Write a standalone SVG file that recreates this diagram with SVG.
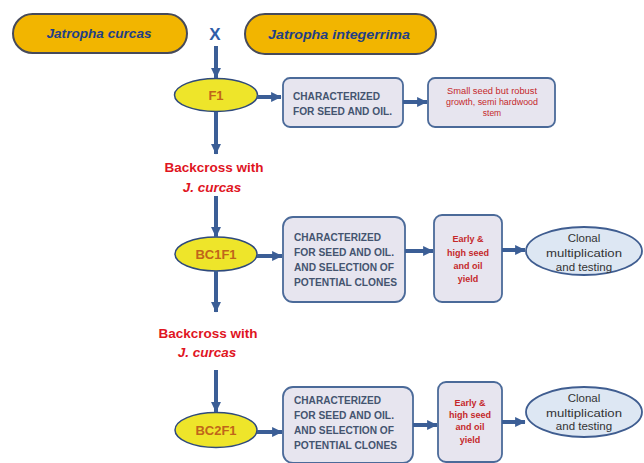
<svg xmlns="http://www.w3.org/2000/svg" width="644" height="463" viewBox="0 0 644 463">
<defs>
<marker id="ah" markerUnits="userSpaceOnUse" markerWidth="11" markerHeight="11" viewBox="0 0 10 10" refX="9" refY="5" orient="auto">
<path d="M0,0.5 L9.5,5 L0,9.5 Z" fill="#3b5e96"/>
</marker>
</defs>
<style>
.pill{fill:#f2b500;stroke:#464a5a;stroke-width:2}
.pt{font-family:"Liberation Sans",Arial,sans-serif;font-weight:bold;font-style:italic;font-size:13px;fill:#1f3f86;text-anchor:middle}
.gen{fill:#eee52a;stroke:#2f4a7c;stroke-width:1.5}
.gt{font-family:"Liberation Sans",Arial,sans-serif;font-weight:bold;font-size:13px;fill:#c0651a;text-anchor:middle}
.box{fill:#e7e5ef;stroke:#4b6a99;stroke-width:1.8}
.ct{font-family:"Liberation Sans",Arial,sans-serif;font-weight:bold;font-size:10px;fill:#44546f}
.rt{font-family:"Liberation Sans",Arial,sans-serif;font-weight:bold;font-size:9px;fill:#c5282b;text-anchor:middle}
.rs{font-family:"Liberation Sans",Arial,sans-serif;font-size:8.5px;fill:#c5282b;text-anchor:middle}
.cl{fill:#dde7f3;stroke:#3f5d90;stroke-width:1.8}
.clt{font-family:"Liberation Sans",Arial,sans-serif;font-size:11.5px;fill:#333;text-anchor:middle}
.bc{font-family:"Liberation Sans",Arial,sans-serif;font-weight:bold;font-size:13.5px;fill:#e0151f;text-anchor:middle}
.x{font-family:"Liberation Sans",Arial,sans-serif;font-weight:bold;font-size:17px;fill:#2f5ea8;text-anchor:middle}
.con line{stroke:#3b5e96;stroke-width:4;marker-end:url(#ah)}
</style>
<rect width="644" height="463" fill="#ffffff"/>

<g id="jcurcas">
<rect class="pill" x="13" y="14" width="174" height="39" rx="19.5"/>
<text class="pt" x="99" y="38" textLength="105" lengthAdjust="spacingAndGlyphs">Jatropha curcas</text>
</g>
<g id="cross"><text class="x" x="215" y="40">X</text></g>
<g id="jinteg">
<rect class="pill" x="245" y="14" width="191" height="40" rx="20"/>
<text class="pt" x="339" y="39" textLength="142" lengthAdjust="spacingAndGlyphs">Jatropha integerrima</text>
</g>

<g id="f1">
<ellipse class="gen" cx="216" cy="95" rx="41.5" ry="16.5"/>
<text class="gt" x="216" y="100">F1</text>
</g>
<g id="char1">
<rect class="box" x="283" y="78" width="120" height="49" rx="7"/>
<text class="ct" x="293" y="100" textLength="87" lengthAdjust="spacingAndGlyphs">CHARACTERIZED</text>
<text class="ct" x="293" y="115" textLength="99" lengthAdjust="spacingAndGlyphs">FOR SEED AND OIL.</text>
</g>
<g id="small">
<rect class="box" x="428" y="78" width="127" height="49" rx="7"/>
<text class="rs" x="492" y="94" textLength="90" lengthAdjust="spacingAndGlyphs">Small seed but robust</text>
<text class="rs" x="492" y="105" textLength="92" lengthAdjust="spacingAndGlyphs">growth, semi hardwood</text>
<text class="rs" x="492" y="116">stem</text>
</g>

<g id="bx1">
<text class="bc" x="214" y="172">Backcross with</text>
<text class="bc" x="212" y="192" font-style="italic">J. curcas</text>
</g>

<g id="bc1f1">
<ellipse class="gen" cx="216" cy="254" rx="41" ry="17"/>
<text class="gt" x="216" y="259">BC1F1</text>
</g>
<g id="char2">
<rect class="box" x="283" y="217" width="122" height="85" rx="10"/>
<text class="ct" x="294" y="241" textLength="87" lengthAdjust="spacingAndGlyphs">CHARACTERIZED</text>
<text class="ct" x="294" y="256" textLength="100" lengthAdjust="spacingAndGlyphs">FOR SEED AND OIL.</text>
<text class="ct" x="294" y="271" textLength="100" lengthAdjust="spacingAndGlyphs">AND SELECTION OF</text>
<text class="ct" x="294" y="286" textLength="103" lengthAdjust="spacingAndGlyphs">POTENTIAL CLONES</text>
</g>
<g id="early1">
<rect class="box" x="434" y="215" width="68" height="87" rx="8"/>
<text class="rt" x="468" y="242">Early &amp;</text>
<text class="rt" x="468" y="256">high seed</text>
<text class="rt" x="468" y="269">and oil</text>
<text class="rt" x="468" y="282">yield</text>
</g>
<g id="clonal1">
<ellipse class="cl" cx="584" cy="251" rx="58" ry="24"/>
<text class="clt" x="584" y="242">Clonal</text>
<text class="clt" x="584" y="257" textLength="76" lengthAdjust="spacingAndGlyphs">multiplication</text>
<text class="clt" x="584" y="271">and testing</text>
</g>

<g id="bx2">
<text class="bc" x="208" y="338">Backcross with</text>
<text class="bc" x="207" y="357" font-style="italic">J. curcas</text>
</g>

<g id="bc2f1">
<ellipse class="gen" cx="216" cy="430" rx="41" ry="17.5"/>
<text class="gt" x="216" y="435">BC2F1</text>
</g>
<g id="char3">
<rect class="box" x="283" y="387" width="130" height="76" rx="10"/>
<text class="ct" x="294" y="404" textLength="87" lengthAdjust="spacingAndGlyphs">CHARACTERIZED</text>
<text class="ct" x="294" y="419" textLength="100" lengthAdjust="spacingAndGlyphs">FOR SEED AND OIL.</text>
<text class="ct" x="294" y="434" textLength="100" lengthAdjust="spacingAndGlyphs">AND SELECTION OF</text>
<text class="ct" x="294" y="449" textLength="103" lengthAdjust="spacingAndGlyphs">POTENTIAL CLONES</text>
</g>
<g id="early2">
<rect class="box" x="438" y="382" width="64" height="80" rx="8"/>
<text class="rt" x="470" y="406">Early &amp;</text>
<text class="rt" x="470" y="418">high seed</text>
<text class="rt" x="470" y="430">and oil</text>
<text class="rt" x="470" y="443">yield</text>
</g>
<g id="clonal2">
<ellipse class="cl" cx="584" cy="412" rx="58" ry="25"/>
<text class="clt" x="584" y="402">Clonal</text>
<text class="clt" x="584" y="417" textLength="76" lengthAdjust="spacingAndGlyphs">multiplication</text>
<text class="clt" x="584" y="430">and testing</text>
</g>

<g id="connectors" class="con">
<line x1="216" y1="46" x2="216" y2="78"/>
<line x1="257" y1="97" x2="281" y2="97"/>
<line x1="403" y1="102" x2="427" y2="102"/>
<line x1="216" y1="112" x2="216" y2="154"/>
<line x1="216" y1="196" x2="216" y2="237"/>
<line x1="257" y1="256" x2="282" y2="256"/>
<line x1="405" y1="251" x2="433" y2="251"/>
<line x1="502" y1="250" x2="525" y2="250"/>
<line x1="216" y1="271" x2="216" y2="312"/>
<line x1="216" y1="370" x2="216" y2="412"/>
<line x1="257" y1="432" x2="282" y2="432"/>
<line x1="413" y1="425" x2="437" y2="425"/>
<line x1="502" y1="422" x2="525" y2="422"/>
</g>
</svg>
